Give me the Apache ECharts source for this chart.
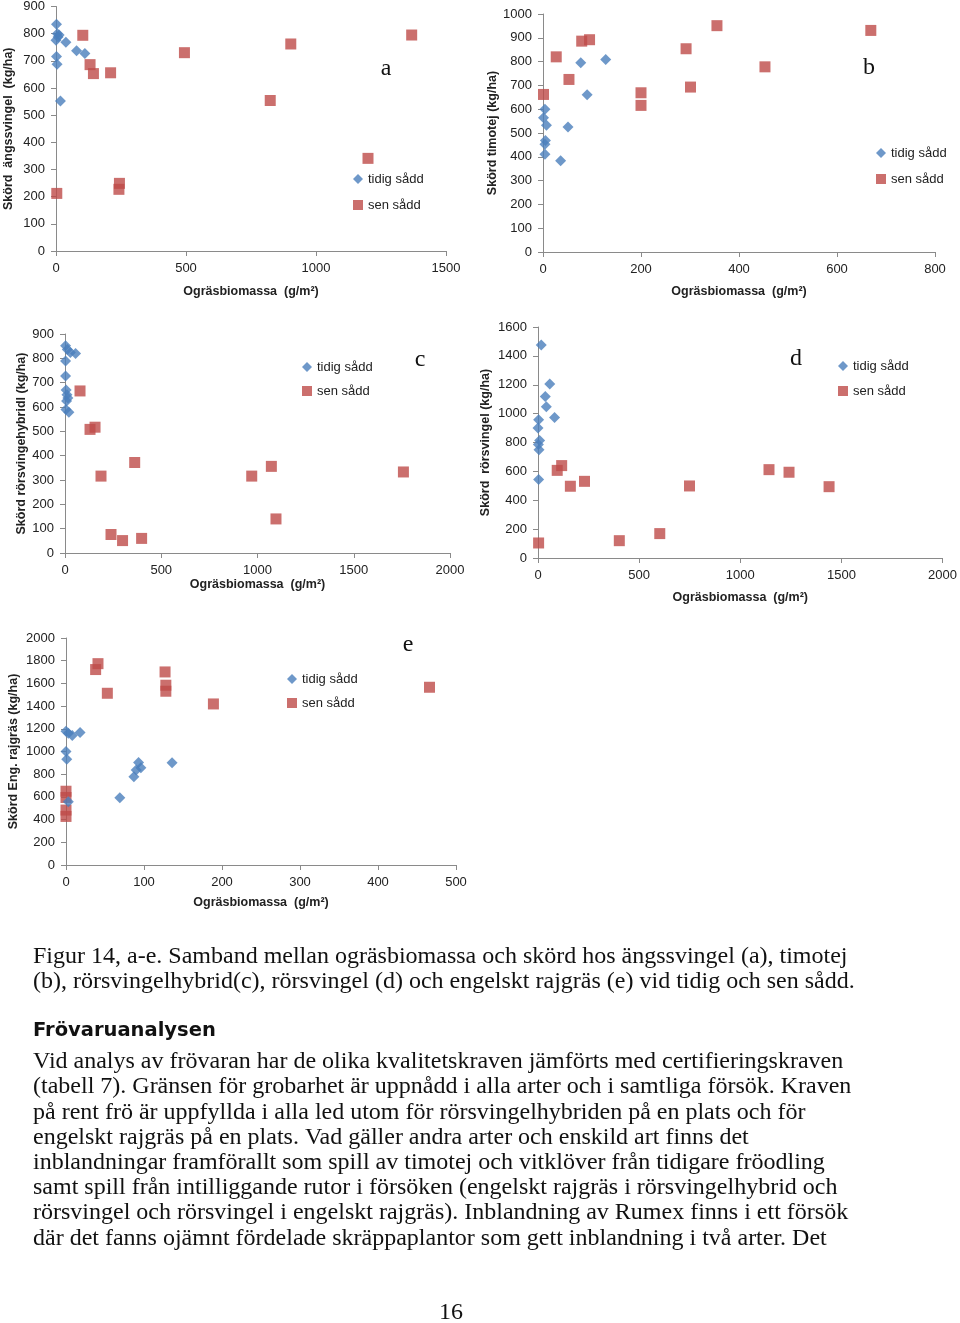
<!DOCTYPE html>
<html><head><meta charset="utf-8">
<script src="https://cdn.jsdelivr.net/npm/echarts@6/dist/echarts.min.js"></script>
<style>html,body{margin:0;padding:0;background:#fff}#c{width:960px;height:1323px}</style>
</head><body><div id="c"></div>
<script>
// ---------- DATA ----------
// a: ängssvingel
const aTidig = [[2,835],[5,800],[12,795],[0,776],[8,788],[38,768],[79,737],[111,727],[2,716],[4,687],[17,552]];
const aSen = [[103,794],[494,730],[903,762],[1368,795],[131,686],[144,653],[210,656],[824,554],[1200,341],[244,249],[242,227],[3,212]];
// b: timotej
const bTidig = [[4,600],[1,564],[7,533],[51,525],[5,468],[4,453],[4,411],[36,383],[77,795],[128,809],[90,661]];
const bSen = [[1,662],[27,820],[53,725],[79,886],[95,892],[200,669],[200,616],[292,854],[301,693],[355,951],[453,778],[669,931]];
// c: rörsvingelhybrid
const cTidig = [[3,852],[12,836],[28,824],[55,820],[3,789],[3,727],[6,670],[10,650],[15,637],[8,625],[5,590],[20,578]];
const cSen = [[78,666],[130,508],[156,517],[187,316],[362,372],[970,316],[1072,356],[1758,333],[1096,140],[239,76],[299,51],[398,60]];
// d: rörsvingel
const dTidig = [[16,1475],[58,1205],[36,1118],[41,1047],[82,974],[3,957],[0,900],[8,814],[2,787],[5,750],[3,544]];
const dSen = [[3,104],[95,607],[117,640],[160,497],[230,531],[402,120],[602,169],[749,499],[1142,612],[1241,594],[1439,494]];
// e: engelskt rajgräs
const eTidig = [[0,1179],[8,1140],[18,1167],[3,1160],[0,1000],[1,932],[93,902],[96,856],[90,836],[87,777],[69,592],[136,900],[3,557]];
const eSen = [[0,650],[0,595],[0,484],[0,428],[38,1722],[41,1774],[53,1513],[127,1701],[128,1584],[128,1531],[189,1419],[466,1566]];

const panelLetters = ['a','b','c','d','e'];
const yNames = ['Skörd  ängssvingel  (kg/ha)','Skörd timotej (kg/ha)','Skörd rörsvingehybridl (kg/ha)','Skörd  rörsvingel (kg/ha)','Skörd Eng. rajgräs (kg/ha)'];
const xName = 'Ogräsbiomassa  (g/m²)';
const xMax = [1500, 800, 2000, 2000, 500];
const xStep = [500, 200, 500, 500, 100];
const yMax = [900, 1000, 900, 1600, 2000];
const yStep = [100, 100, 100, 200, 200];
const seriesTidig = [aTidig, bTidig, cTidig, dTidig, eTidig];
const seriesSen = [aSen, bSen, cSen, dSen, eSen];
const legendNames = ['tidig sådd', 'sen sådd'];

const captionLines = [
 'Figur 14, a-e. Samband mellan ogräsbiomassa och skörd hos ängssvingel (a), timotej',
 '(b), rörsvingelhybrid(c), rörsvingel (d) och engelskt rajgräs (e) vid tidig och sen sådd.'
];
const heading = 'Frövaruanalysen';
const paragraphLines = [
 'Vid analys av frövaran har de olika kvalitetskraven jämförts med certifieringskraven',
 '(tabell 7). Gränsen för grobarhet är uppnådd i alla arter och i samtliga försök. Kraven',
 'på rent frö är uppfyllda i alla led utom för rörsvingelhybriden på en plats och för',
 'engelskt rajgräs på en plats. Vad gäller andra arter och enskild art finns det',
 'inblandningar framförallt som spill av timotej och vitklöver från tidigare fröodling',
 'samt spill från intilliggande rutor i försöken (engelskt rajgräs i rörsvingelhybrid och',
 'rörsvingel och rörsvingel i engelskt rajgräs). Inblandning av Rumex finns i ett försök',
 'där det fanns ojämnt fördelade skräppaplantor som gett inblandning i två arter. Det'
];
const pageNumber = '16';

// ---------- LAYOUT ----------
const grids = [
 {left:56, top:5, width:390, height:246},
 {left:543, top:14, width:392, height:238},
 {left:65, top:334, width:385, height:219},
 {left:538, top:327, width:405, height:231},
 {left:66, top:638, width:390, height:227}
];
const yNameGap = [41, 40, 37, 46, 46];
const xNameGap = [34, 33, 22, 33, 31];
const legendPos = [[353,172,12],[876,146,12],[302,360,10],[838,359,11],[287,672,10]];
const letterPos = [[386,69],[869,68],[420,360],[796,359],[408,645]];

const axisColor = '#8a8a8a';
const labelFont = 'Liberation Sans';
const blue = '#4a7ebb', red = '#be4b48';
const plain = v => String(v);

const xAxes = [], yAxes = [], series = [], legends = [], graphics = [];
for (let i = 0; i < 5; i++) {
  xAxes.push({
    gridIndex:i, type:'value', min:0, max:xMax[i], interval:xStep[i],
    axisLine:{show:true, onZero:false, lineStyle:{color:axisColor, width:1}},
    axisTick:{show:true, length:5, lineStyle:{color:axisColor}},
    axisLabel:{color:'#222', fontSize:13, fontFamily:labelFont, margin:11, formatter:plain},
    splitLine:{show:false},
    name:xName, nameLocation:'middle', nameGap:xNameGap[i],
    nameTextStyle:{fontWeight:'bold', fontSize:12.5, color:'#222', fontFamily:labelFont}
  });
  yAxes.push({
    gridIndex:i, type:'value', min:0, max:yMax[i], interval:yStep[i],
    axisLine:{show:true, lineStyle:{color:axisColor, width:1}},
    axisTick:{show:true, length:5, lineStyle:{color:axisColor}},
    axisLabel:{color:'#222', fontSize:13, fontFamily:labelFont, margin:11, formatter:plain},
    splitLine:{show:false},
    name:yNames[i], nameLocation:'middle', nameGap:yNameGap[i], nameRotate:90,
    nameTextStyle:{fontWeight:'bold', fontSize:12.5, color:'#222', fontFamily:labelFont}
  });
  series.push({
    name:legendNames[0], type:'scatter', xAxisIndex:i, yAxisIndex:i,
    symbol:'diamond', symbolSize:[11,11], itemStyle:{color:blue},
    data:seriesTidig[i], z:3
  });
  series.push({
    name:legendNames[1], type:'scatter', xAxisIndex:i, yAxisIndex:i,
    symbol:'rect', symbolSize:[11,11], itemStyle:{color:red},
    data:seriesSen[i], z:2
  });
  legends.push({
    left:legendPos[i][0], top:legendPos[i][1], orient:'vertical', padding:0,
    itemGap:legendPos[i][2], itemWidth:10, itemHeight:10, selectedMode:false,
    textStyle:{fontSize:13, color:'#222', fontFamily:labelFont, lineHeight:14},
    data:[{name:legendNames[0], icon:'diamond'},{name:legendNames[1], icon:'rect'}]
  });
  graphics.push({
    type:'text', x:letterPos[i][0], y:letterPos[i][1],
    style:{text:panelLetters[i], font:'24px "Liberation Serif"', fill:'#111', align:'center', verticalAlign:'middle'}
  });
}

const bodyFont = '24px "Liberation Serif"';
captionLines.forEach((t, k) => graphics.push({
  type:'text', x:33, y:957 + k*25,
  style:{text:t, font:bodyFont, fill:'#111', align:'left', verticalAlign:'middle'}
}));
graphics.push({type:'text', x:33, y:1031,
  style:{text:heading, font:'bold 19.5px "DejaVu Sans"', fill:'#111', align:'left', verticalAlign:'middle'}});
paragraphLines.forEach((t, k) => graphics.push({
  type:'text', x:33, y:1062 + k*25.2,
  style:{text:t, font:bodyFont, fill:'#111', align:'left', verticalAlign:'middle'}
}));
graphics.push({type:'text', x:451, y:1313,
  style:{text:pageNumber, font:bodyFont, fill:'#111', align:'center', verticalAlign:'middle'}});

const chart = echarts.init(document.getElementById('c'), null, {renderer:'canvas'});
chart.setOption({
  animation:false,
  backgroundColor:'#fff',
  grid:grids,
  xAxis:xAxes,
  yAxis:yAxes,
  legend:legends,
  series:series,
  graphic:graphics
});
</script></body></html>
